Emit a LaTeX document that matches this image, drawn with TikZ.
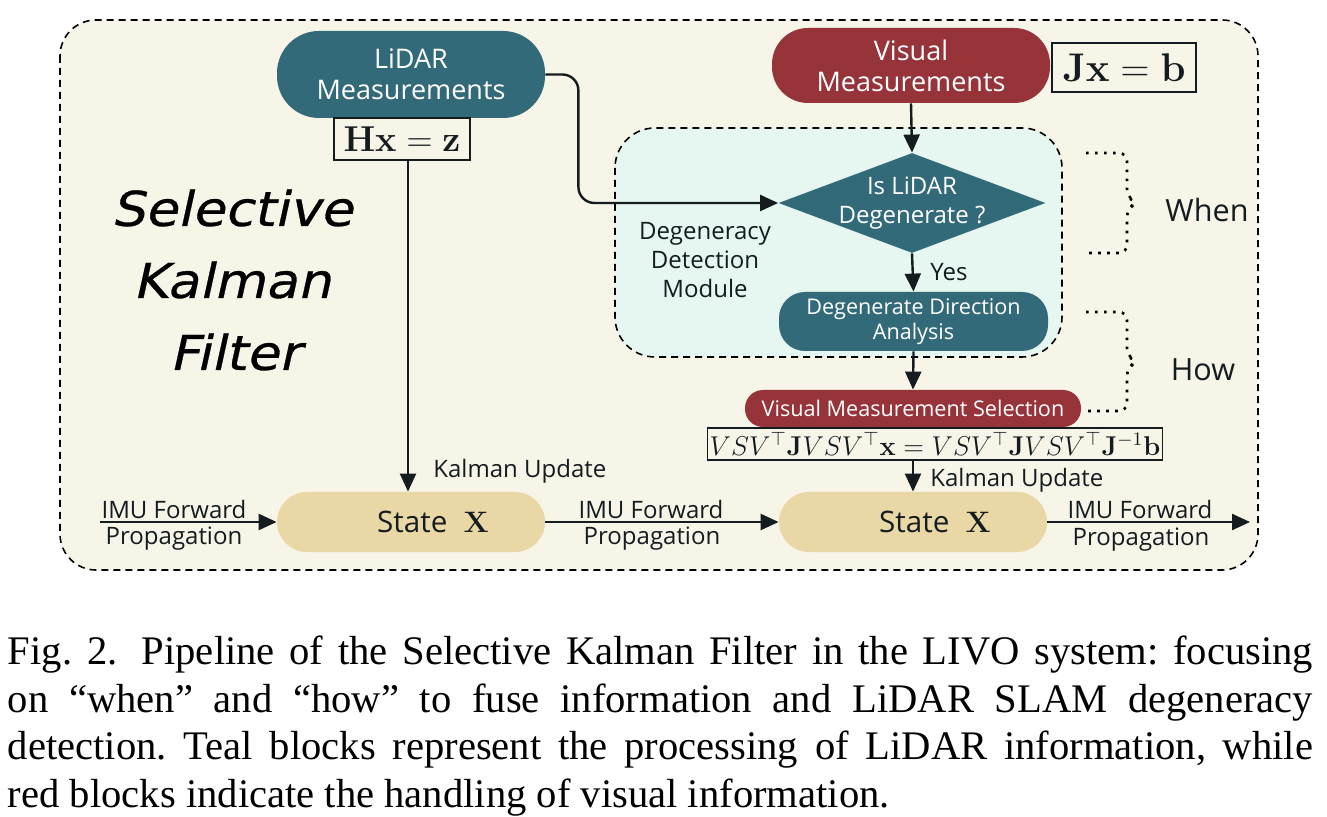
\RequirePackage{fix-cm}
\documentclass[tikz,border=0pt]{standalone}
\usepackage[no-math]{fontspec}
\setmainfont{Open Sans}
\newfontfamily\capfont{Liberation Serif}
\newfontfamily\titlefont[FakeSlant=0.22,FakeStretch=1.1,FakeBold=0.6]{DejaVu Sans}
\usetikzlibrary{positioning,shapes.geometric,arrows.meta,calc}
\definecolor{myteal}{RGB}{51,106,121}
\definecolor{myred}{RGB}{150,52,58}
\definecolor{mytan}{RGB}{233,216,165}
\definecolor{mycream}{RGB}{247,244,232}
\definecolor{mymint}{RGB}{230,246,240}
\definecolor{myink}{RGB}{20,28,32}

\begin{document}
\begin{tikzpicture}[x=0.5pt,y=-0.5pt,
        every node/.style={inner sep=0pt,align=center,text=myink},
        measnode/.style={text=white,font=\fontsize{13.5pt}{15.5pt}\selectfont},
        lidarnode/.style={measnode,fill=myteal,rounded corners=21pt,minimum width=134pt,minimum height=43.5pt},
        visnode/.style={measnode,fill=myred,rounded corners=18pt,minimum width=139pt,minimum height=37.5pt},
        mathbox/.style={draw=myink,fill=mycream,line width=0.7pt},
        statenode/.style={fill=mytan,rounded corners=15pt,minimum width=134pt,minimum height=30pt,
          font=\fontsize{14.8pt}{17pt}\selectfont},
        lbl/.style={font=\fontsize{12pt}{14.5pt}\selectfont},
        biglbl/.style={font=\fontsize{15.3pt}{18pt}\selectfont},
        titletext/.style={font=\titlefont\fontsize{24pt}{28pt}\selectfont,text=black},
        conn/.style={draw=myink,line width=1.2pt,-{Triangle[length=9pt,width=8pt]}},
        bracepath/.style={draw=black,line width=1.3pt,dash pattern=on 1.3pt off 3.2pt,rounded corners=4pt}
      ]
      \useasboundingbox (0,0) rectangle (1327,817);

      % the filter frame and the detection module
      \draw[fill=mycream,line width=0.8pt,dash pattern=on 3.5pt off 2.5pt,rounded corners=18pt]
        (60,20) rectangle (1258,570);
      \draw[fill=mymint,line width=0.8pt,dash pattern=on 3.5pt off 2.5pt,rounded corners=20pt]
        (615,128) rectangle (1062,357);

      % the title
      \node[titletext] (tsel) at (232,208) {Selective};
      \node[titletext] (tkal) at (232,280) {Kalman};
      \node[titletext] (tfil) at (235,352) {Filter};

      % the measurements
      \node[lidarnode] (lidar) at (411,74.5) {LiDAR\\Measurements};
      \node[mathbox,minimum width=68pt,minimum height=21pt,font=\fontsize{18pt}{20pt}\selectfont]
        (hxz) at (402,139) {$\mathbf{Hx}=\mathbf{z}$};
      \node[visnode] (visual) at (911,65.5) {Visual\\Measurements};
      \node[mathbox,minimum width=72pt,minimum height=24.5pt,font=\fontsize{20pt}{22pt}\selectfont]
        (jxb) at (1124,67.5) {$\mathbf{Jx}=\mathbf{b}$};

      % the detection module
      \node[diamond,fill=myteal,minimum width=133.5pt,minimum height=50pt] (deg) at (912,203) {};
      \node[lbl,text=white] (degtext) at (deg.center) {Is LiDAR\\Degenerate ?};
      \node[lbl] (module) at (705,260) {Degeneracy\\Detection\\Module};
      \node[fill=myteal,text=white,rounded corners=13pt,minimum width=134.5pt,minimum height=29.5pt,
        font=\fontsize{10.8pt}{12.8pt}\selectfont] (dda) at (913.5,321.5) {Degenerate Direction\\Analysis};
      \node[fill=myred,text=white,rounded corners=9pt,minimum width=168pt,minimum height=18.5pt,
        font=\fontsize{10.8pt}{12.8pt}\selectfont] (vms) at (913,408.5) {Visual Measurement Selection};
      \node[mathbox,minimum width=225pt,minimum height=16pt,inner xsep=1pt,font=\fontsize{13.6pt}{15pt}\selectfont]
        (eq) at (935,444) {$VSV^{\top}\mathbf{J}VSV^{\top}\mathbf{x}=VSV^{\top}\mathbf{J}VSV^{\top}\mathbf{J}^{-1}\mathbf{b}$};

      % the states
      \node[statenode] (st1) at (411,522) {\hspace*{22pt}State\hspace{0.55em}$\mathbf{X}$};
      \node[statenode] (st2) at (913,522) {\hspace*{22pt}State\hspace{0.55em}$\mathbf{X}$};
      \coordinate (imuin) at (100,522);
      \coordinate (imuout) at (1250,522);

      % the edges
      \draw[conn,rounded corners=8pt] (lidar.east) -- ++(33,0) |- (deg.west);
      \draw[conn] (hxz.south -| 408,0) -- (st1.north -| 408,0);
      \draw[conn] (visual.south) -- (deg.north);
      \draw[conn] (deg.south) -- (dda.north);
      \draw[conn] (dda.south) -- (vms.north);
      \draw[conn] (eq.south -| st2.north) -- (st2.north);
      \draw[conn] (imuin) -- (st1.west);
      \draw[conn] (st1.east) -- (st2.west);
      \draw[conn] (st2.east) -- (imuout);

      % the edge labels
      \node[lbl,anchor=west] (yes) at (930,272) {Yes};
      \node[lbl,anchor=west] (ku1) at (433,471) {Kalman Update};
      \node[lbl,anchor=west] (ku2) at (930,480) {Kalman Update};
      \node[lbl] (imu1a) at (174,510) {IMU Forward};
      \node[lbl] (imu1b) at (174,539) {Propagation};
      \node[lbl] (imu2a) at (651,510) {IMU Forward};
      \node[lbl] (imu2b) at (652,539) {Propagation};
      \node[lbl] (imu3a) at (1140,510) {IMU Forward};
      \node[lbl] (imu3b) at (1141,540) {Propagation};

      % when and how
      \draw[bracepath] (1086,153) -- (1127,153) -- (1127,197) -- (1137,203) -- (1127,209)
        -- (1127,253) -- (1088,253);
      \draw[bracepath] (1086,312) -- (1127,312) -- (1127,356) -- (1137,362) -- (1127,368)
        -- (1127,411) -- (1088,411);
      \node[biglbl] (when) at (1207,210) {When};
      \node[biglbl] (how) at (1203,370) {How};

      % the caption
      \node[text width=652.5pt,align=justify,text=black,
        font=\capfont\fontsize{20.3pt}{23.75pt}\selectfont\frenchspacing]
        (caption) at (660.5,726) {Fig.~2.\hspace{0.6em}Pipeline of the Selective Kalman Filter in the LIVO system: focusing\linebreak
        on “when” and “how” to fuse information and LiDAR SLAM degeneracy\linebreak
        detection. Teal blocks represent the processing of LiDAR information, while\linebreak
        red blocks indicate the handling of visual information.};
\end{tikzpicture}
\end{document}
